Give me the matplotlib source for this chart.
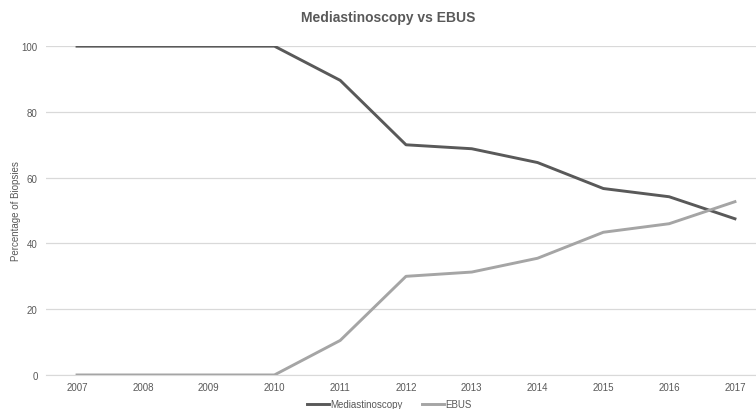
import matplotlib.pyplot as plt

plt.rcParams['font.family'] = ['Liberation Sans', 'DejaVu Sans']

years = [2007, 2008, 2009, 2010, 2011, 2012, 2013, 2014, 2015, 2016, 2017]
mediastinoscopy = [100, 100, 100, 100, 89.6, 70.0, 68.8, 64.6, 56.7, 54.2, 47.5]
ebus = [0, 0, 0, 0, 10.5, 30.0, 31.3, 35.5, 43.4, 46.0, 52.7]


def main():
    fig = plt.figure(figsize=(7.56, 4.10), dpi=100)
    ax = fig.add_axes([0.061, 0.083, 0.939, 0.802])

    ax.plot(years, mediastinoscopy, color='#595959', lw=2.1, label='Mediastinoscopy',
            solid_joinstyle='round', zorder=3)
    ax.plot(years, ebus, color='#a5a5a5', lw=2.1, label='EBUS',
            solid_joinstyle='round', zorder=3)

    ax.set_xlim(2007 - 0.47, 2017 + 0.32)
    ax.set_ylim(0, 100)
    ax.set_xticks(years)
    ax.set_yticks(range(0, 101, 20))
    ax.grid(axis='y', color='#d9d9d9', lw=0.9)
    ax.set_axisbelow(True)
    for s in ['top', 'right', 'left']:
        ax.spines[s].set_visible(False)
    ax.spines['bottom'].set_color('#d9d9d9')
    ax.tick_params(length=0, labelsize=7, colors='#595959', pad=5)
    ax.tick_params(axis='y', pad=6)

    ax.set_ylabel('Percentage of Biopsies', fontsize=7, color='#595959')
    ax.yaxis.set_label_coords(-0.036, 0.5)
    fig.text(0.513, 0.955, 'Mediastinoscopy vs EBUS', ha='center', va='center',
             fontsize=10, fontweight='bold', color='#595959')

    fig.legend(loc='center', bbox_to_anchor=(0.515, 0.012), ncol=2, frameon=False,
               fontsize=7, labelcolor='#595959', handlelength=2.3, handletextpad=0.1,
               columnspacing=2.0)

    plt.savefig('out.png', dpi=100)


if __name__ == '__main__':
    main()
